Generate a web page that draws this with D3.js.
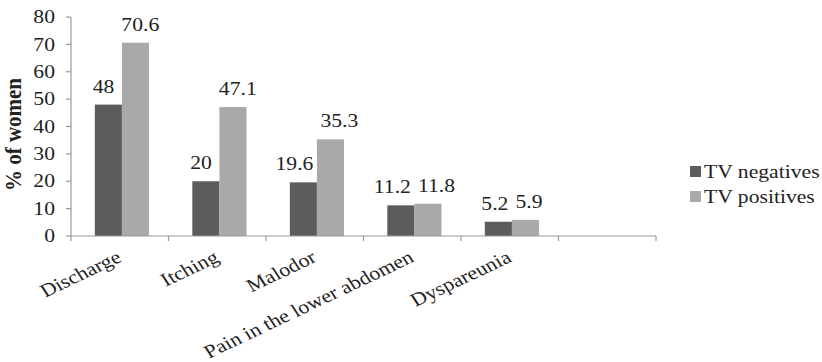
<!DOCTYPE html>
<html><head><meta charset="utf-8">
<script src="https://cdn.jsdelivr.net/npm/d3@7"></script>
<style>
html,body{margin:0;padding:0;background:#fff;}
text{font-family:"Liberation Serif","Times New Roman",serif;fill:#222;}
</style></head>
<body>
<svg id="chart" width="822" height="362"></svg>
<script>
const categories = ["Discharge", "Itching", "Malodor", "Pain in the lower abdomen", "Dyspareunia", ""];
const seriesNames = ["TV negatives", "TV positives"];
const tvNegatives = [48, 20, 19.6, 11.2, 5.2, null];
const tvPositives = [70.6, 47.1, 35.3, 11.8, 5.9, null];
const labelNeg = ["48", "20", "19.6", "11.2", "5.2", ""];
const labelPos = ["70.6", "47.1", "35.3", "11.8", "5.9", ""];
const yTicks = [0, 10, 20, 30, 40, 50, 60, 70, 80];
const colors = ["#5c5c5c", "#a9a9a9"];

(function () {
const SX = 1.17; // horizontal stretch of the original picture
const FS = 18.5;
const svg = d3.select("#chart");
const mLeft = 71, mRight = 656, mTop = 17, mBottom = 236;

const x0 = d3.scaleBand().domain(categories).range([mLeft, mRight]).padding(0);
const x1 = d3.scaleBand().domain(seriesNames).range([0, x0.bandwidth()])
  .paddingInner(0).paddingOuter(0.8).align(0.55);
const y = d3.scaleLinear().domain([0, 80]).range([mBottom, mTop]);

const seriesValues = [tvNegatives, tvPositives];
const seriesLabels = [labelNeg, labelPos];

// bars
seriesNames.forEach((s, si) => {
  const data = categories.map((c, i) => ({c, v: seriesValues[si][i]})).filter(d => d.v != null);
  svg.append("g").selectAll("rect").data(data).join("rect")
    .attr("x", d => x0(d.c) + x1(s))
    .attr("y", d => y(d.v))
    .attr("width", x1.bandwidth())
    .attr("height", d => y(0) - y(d.v))
    .attr("fill", colors[si]);
});

// value labels, pushed apart where they would collide
const labG = svg.append("g");
categories.forEach((c, i) => {
  if (tvNegatives[i] == null) return;
  const items = seriesNames.map((s, si) => {
    const t = labG.append("text").attr("text-anchor", "middle").attr("font-size", FS)
      .text(seriesLabels[si][i]);
    const w = t.node().getComputedTextLength() * SX;
    return {t, w, cx: x0(c) + x1(s) + x1.bandwidth()/2, cy: y(seriesValues[si][i]) - 12};
  });
  const gap = 7;
  const diff = (items[1].cx - items[1].w/2) - (items[0].cx + items[0].w/2);
  if (diff < gap) {
    const sh = (gap - diff) / 2;
    items[0].cx -= sh; items[1].cx += sh;
  }
  items.forEach(it => it.t.attr("transform", `translate(${it.cx},${it.cy}) scale(${SX},1)`));
});

// y axis
const axisColor = "#9a9a9a";
svg.append("line").attr("x1", mLeft).attr("x2", mLeft).attr("y1", y(0)).attr("y2", y(80))
  .attr("stroke", axisColor).attr("stroke-width", 1.2);
const yg = svg.append("g");
yg.selectAll("line").data(yTicks).join("line")
  .attr("x1", mLeft - 5).attr("x2", mLeft).attr("y1", d => y(d)).attr("y2", d => y(d))
  .attr("stroke", axisColor).attr("stroke-width", 1.2);
yg.selectAll("text").data(yTicks).join("text")
  .attr("transform", d => `translate(55,${y(d) + 6.2}) scale(${SX},1)`)
  .attr("text-anchor", "end")
  .attr("font-size", FS)
  .text(d => d);

// x axis
svg.append("line").attr("x1", mLeft).attr("x2", mRight).attr("y1", y(0)).attr("y2", y(0))
  .attr("stroke", axisColor).attr("stroke-width", 1.2);
const bounds = categories.map(c => x0(c)).concat([mRight]);
svg.append("g").selectAll("line").data(bounds).join("line")
  .attr("x1", d => d).attr("x2", d => d).attr("y1", y(0)).attr("y2", y(0) + 5)
  .attr("stroke", axisColor).attr("stroke-width", 1.2);
svg.append("g").selectAll("text").data(categories).join("text")
  .attr("transform", c => `translate(${x0(c) + x0.bandwidth()/2 + 3},${y(0) + 25}) scale(${SX},1) rotate(-29)`)
  .attr("text-anchor", "end")
  .attr("font-size", 18.8)
  .text(c => c);

// y title
svg.append("text")
  .attr("transform", `translate(21,${(mTop + mBottom)/2 + 8}) scale(1.12,1) rotate(-90)`)
  .attr("text-anchor", "middle")
  .attr("font-size", 21)
  .attr("font-weight", "bold")
  .text("% of women");

// legend
const lg = svg.append("g");
seriesNames.forEach((s, i) => {
  lg.append("rect").attr("x", 690).attr("y", 166 + i*25).attr("width", 11).attr("height", 11).attr("fill", colors[i]);
  lg.append("text").attr("transform", `translate(704,${177.5 + i*25}) scale(${SX},1)`)
    .attr("font-size", FS).text(s);
});
})();
</script>
</body></html>
